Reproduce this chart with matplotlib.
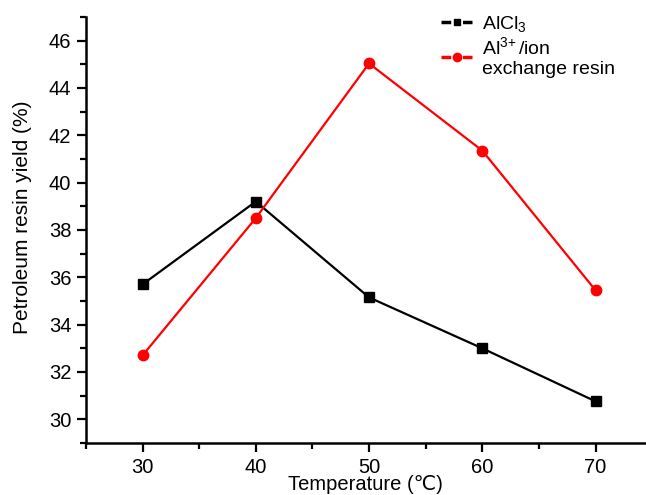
import matplotlib
matplotlib.use("Agg")
import matplotlib.pyplot as plt
from matplotlib.ticker import MultipleLocator
from matplotlib.lines import Line2D

temperature = [30, 40, 50, 60, 70]
alcl3_yield = [35.7, 39.2, 35.15, 33.0, 30.76]
al_resin_yield = [32.7, 38.5, 45.03, 41.35, 35.45]
series_labels = ['AlCl$_3$', 'Al$^{3\\!+}$/ion\nexchange resin']

plt.rcParams['font.family'] = ['Liberation Sans', 'DejaVu Sans']
plt.rcParams['mathtext.fontset'] = 'custom'
plt.rcParams['mathtext.rm'] = 'Liberation Sans'
plt.rcParams['mathtext.it'] = 'Liberation Sans'
plt.rcParams['mathtext.default'] = 'regular'

fig = plt.figure(figsize=(6.46, 4.95), dpi=100)
ax = fig.add_axes([0.133, 0.105, 0.866, 0.861])

ax.plot(temperature, alcl3_yield, color='black', marker='s', markersize=6.5, lw=1.6)
ax.plot(temperature, al_resin_yield, color='#ff0000', marker='o', markersize=7.5, lw=1.6)

ax.set_xlim(25, 74.4)
ax.set_ylim(29, 47)
ax.set_xticks(temperature)
ax.xaxis.set_minor_locator(MultipleLocator(5))
ax.set_yticks([30, 32, 34, 36, 38, 40, 42, 44, 46])
ax.yaxis.set_minor_locator(MultipleLocator(1))
ax.spines['top'].set_visible(False)
ax.spines['right'].set_visible(False)
for s in ['left', 'bottom']:
    ax.spines[s].set_linewidth(1.8)
ax.tick_params(which='major', direction='out', length=6.5, width=1.6, labelsize=14.5, pad=4)
ax.tick_params(which='minor', direction='out', length=4.5, width=1.6)

ax.set_xlabel('Temperature (\u2103)', fontsize=14.5, labelpad=-1)
ax.set_ylabel('Petroleum resin yield (%)', fontsize=15)
ax.yaxis.set_label_coords(-0.097, 0.53)

handles = [
    Line2D([], [], color='black', lw=2.5, linestyle=(0, (2.8, 3.4)), marker='s', markersize=5),
    Line2D([], [], color='#ff0000', lw=2.5, linestyle=(0, (2.8, 3.4)), marker='o', markersize=6),
]
ax.legend(handles, series_labels, loc='upper left', bbox_to_anchor=(0.621, 1.026), frameon=False,
          fontsize=14, handlelength=1.6, handletextpad=0.5, labelspacing=0.15, borderaxespad=0)

fig.savefig('out.png', dpi=100)
